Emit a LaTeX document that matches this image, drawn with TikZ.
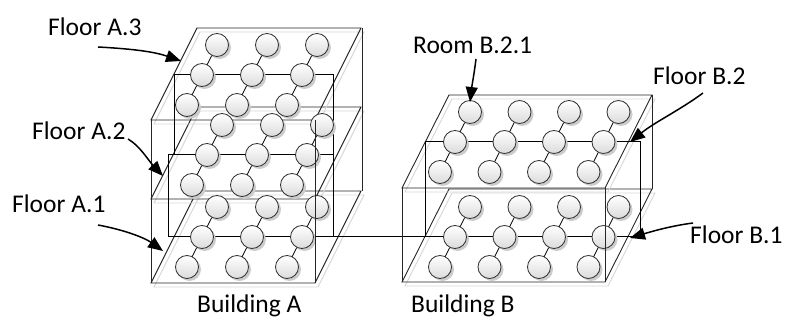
\documentclass[tikz,border=0pt]{standalone}
\usepackage{fontspec}
\setmainfont{Carlito}
\usetikzlibrary{arrows.meta,shadows}
\pgfdeclarelayer{back}
\pgfsetlayers{back,main}
\newcommand\floorpar[5]{% fx fy width dx dy
  \draw[floorshadow] (#1+3,#2+4) -- ++(#3,0) -- ++(#4,#5) -- ++(-#3,0) -- cycle;
  \draw[edge] (#1,#2) -- ++(#3,0) -- ++(#4,#5) -- ++(-#3,0) -- cycle;}
\newcommand\roomgrid[5]{% name bx by ncols spacing
  \foreach \c in {1,...,#4}{
    \node[room] (#1f\c) at (#2+36+#5*\c-#5, #3-16) {};
    \node[room] (#1m\c) at (#2+51+#5*\c-#5, #3-46) {};
    \node[room] (#1b\c) at (#2+66+#5*\c-#5, #3-76) {};
  }
  \begin{pgfonlayer}{back}
  \foreach \c in {1,...,#4}{
    \draw[link] (#1b\c.center) -- (#1m\c.center) -- (#1f\c.center);
  }
  \end{pgfonlayer}}
\begin{document}
\begin{tikzpicture}[x=1pt,y=-1pt,
  edge/.style={draw=black!85, line width=0.9pt},
  floorshadow/.style={draw=black!16, line width=0.9pt},
  wall/.style={draw=black, line width=1pt},
  room/.style={circle, draw=black!80, line width=0.85pt, minimum size=23pt, inner sep=0pt,
    top color=white, bottom color=black!14,
    drop shadow={shadow xshift=2.5pt, shadow yshift=-2.5pt, fill=black!20, opacity=1}},
  link/.style={draw=black, line width=0.8pt},
  lbl/.style={font=\fontsize{25.5}{30}\selectfont, inner sep=0pt},
  callout/.style={draw=black, line width=1.5pt, -{Triangle[length=15pt,width=12pt]}}
]
\useasboundingbox (0,0) rectangle (785,320);

\begin{pgfonlayer}{back}
% floors of building A
\floorpar{151}{283}{164}{46}{-92}
\floorpar{151}{199}{164}{46}{-92}
\floorpar{151}{120}{164}{46}{-92}
% floors of building B
\floorpar{402}{282}{203}{47}{-93}
\floorpar{402}{188}{203}{47}{-93}
% back right edges
\draw[edge] (362,28) -- (362,191);
\draw[edge] (652,95) -- (652,189);
% connection walls
\coordinate (wa1) at (174,75);
\coordinate (wa2) at (333,75);
\coordinate (wa3) at (168,155);
\coordinate (wa4) at (333,155);
\coordinate (wa5) at (174,155);
\coordinate (wa6) at (168,237);
\coordinate (wa7) at (333,237);
\coordinate (wb1) at (425,142);
\coordinate (wb2) at (640,142);
\coordinate (wb3) at (425,237);
\coordinate (wb4) at (640,237);
\draw[wall] (wa5) -- (wa1) -- (wa2) -- (wa7);
\draw[wall] (wa4) -- (wa3) -- (wa6) -- (wb4);
\draw[wall] (wb3) -- (wb1) -- (wb2) -- (wb4);
\end{pgfonlayer}

% rooms
\roomgrid{aa}{151}{283}{3}{50}
\roomgrid{ab}{156}{201}{3}{50}
\roomgrid{ac}{151}{121}{3}{50}
\roomgrid{ba}{404}{283}{4}{49.5}
\roomgrid{bb}{404}{188}{4}{49.5}

% front vertical edges (on top)
\draw[edge] (151,120) -- (151,283);
\draw[edge] (315,120) -- (315,283);
\draw[edge] (402,188) -- (402,282);
\draw[edge] (605,188) -- (605,282);

% labels
\node[lbl, anchor=base west] (la3) at (48,36) {Floor A.3};
\node[lbl, anchor=base west] (la2) at (32,140) {Floor A.2};
\node[lbl, anchor=base west] (la1) at (12,213) {Floor A.1};
\node[lbl, anchor=base west] (lr) at (413,54) {Room B.2.1};
\node[lbl, anchor=base west] (lb2) at (653,85) {Floor B.2};
\node[lbl, anchor=base west] (lb1) at (690,244) {Floor B.1};
\node[lbl, anchor=base west] (bla) at (197,313) {Building A};
\node[lbl, anchor=base west] (blb) at (411,313) {Building B};

% callout arrows
\coordinate (la3s) at (98,47);  \coordinate (la3t) at (181,61);
\coordinate (la2s) at (128,139); \coordinate (la2t) at (163,176);
\coordinate (la1s) at (98,225); \coordinate (la1t) at (163,251);
\coordinate (lrs) at (476,59);  \coordinate (lrt) at (470,102);
\coordinate (lb2s) at (703,93); \coordinate (lb2t) at (630,142);
\coordinate (lb1s) at (693,223); \coordinate (lb1t) at (630,238);
\draw[callout] (la3s) .. controls (135,49) and (155,52) .. (la3t);
\draw[callout] (la2s) .. controls (140,146) and (148,160) .. (la2t);
\draw[callout] (la1s) .. controls (125,230) and (145,238) .. (la1t);
\draw[callout] (lrs) .. controls (474,75) and (472,85) .. (lrt);
\draw[callout] (lb2s) .. controls (680,110) and (655,122) .. (lb2t);
\draw[callout] (lb1s) .. controls (670,226) and (650,232) .. (lb1t);
\end{tikzpicture}
\end{document}
